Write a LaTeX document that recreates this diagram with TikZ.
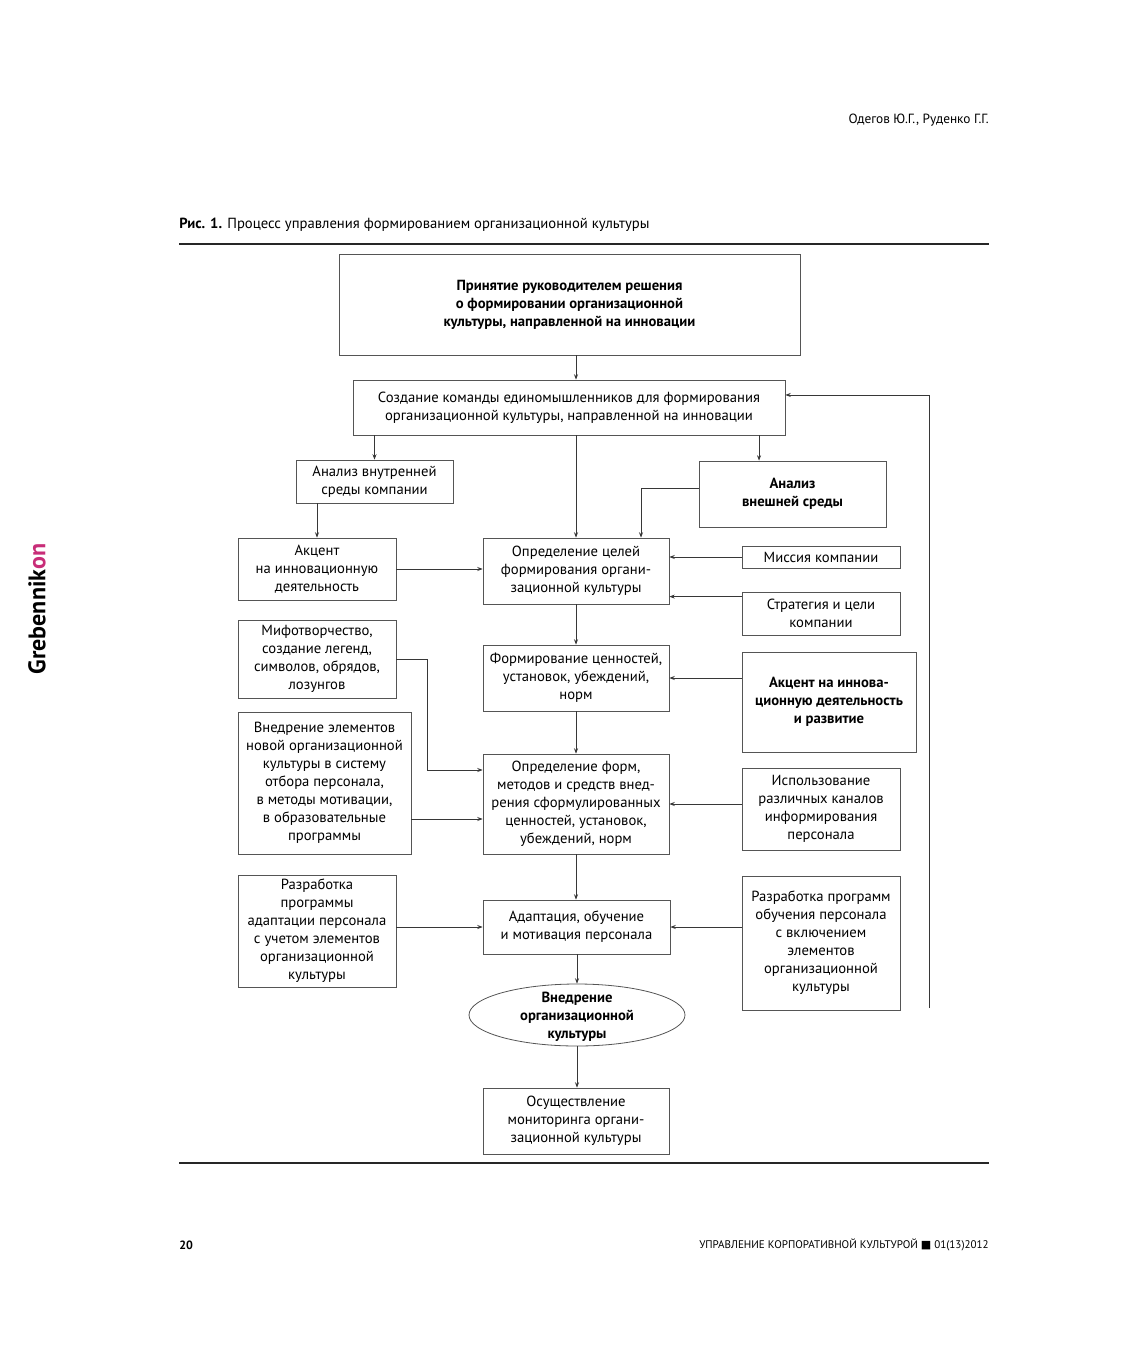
\documentclass[tikz,border=0pt]{standalone}
\usepackage{fontspec}
\setmainfont{PT Sans}
\newfontfamily\dejavu{DejaVu Sans}
\usetikzlibrary{arrows.meta,shapes.geometric,calc}
\definecolor{linegray}{RGB}{55,55,55}
\definecolor{boxgray}{RGB}{85,85,85}
\definecolor{grebpink}{RGB}{200,45,120}
\begin{document}
\begin{tikzpicture}[x=0.75pt,y=-0.75pt,
  txt/.style={font=\fontsize{11}{13.5}\selectfont, align=center, text=black},
  box/.style 2 args={draw=boxgray, line width=0.6pt, inner sep=0pt,
    minimum width=#1*0.75pt, minimum height=#2*0.75pt, txt},
  arr/.style={draw=linegray, line width=0.5pt, -{Stealth[length=4pt,width=3pt]}},
  ln/.style={draw=linegray, line width=0.5pt},
  rule/.style={draw=black!85, line width=1.4pt},
  pagetxt/.style={inner sep=0pt}]
\useasboundingbox[fill=white] (0,0) rectangle (1120,1358);

% page decoration
\node[pagetxt, anchor=east, font=\fontsize{10}{12}\selectfont] (hdr) at (989,120) {Одегов Ю.Г., Руденко Г.Г.};
\node[pagetxt, anchor=west, font=\fontsize{11}{13}\selectfont] (cap) at (179,225) {\textbf{Рис. 1.} Процесс управления формированием организационной культуры};
\draw[rule] (179,244) -- (989,244);
\draw[rule] (179,1163) -- (989,1163);
\node[pagetxt, anchor=west, font=\bfseries\fontsize{9}{11}\selectfont] (pg) at (179,1245) {20};
\node[pagetxt, anchor=east, font=\fontsize{8.3}{10}\selectfont] (ftr) at (989,1245) {УПРАВЛЕНИЕ КОРПОРАТИВНОЙ КУЛЬТУРОЙ {\dejavu ■} 01(13)2012};
\node[pagetxt, rotate=90, font=\bfseries\fontsize{18}{18}\selectfont] (greb) at (37,609) {Grebennik\textcolor{grebpink}{on}};

% boxes
\node[box={461}{101}] (top) at (569.5,304.5) {\bfseries Принятие руководителем решения\\\bfseries о формировании организационной\\\bfseries культуры, направленной на инновации};
\node[box={432}{55}] (team) at (569,407.5) {Создание команды единомышленников для формирования\\организационной культуры, направленной на инновации};
\node[box={157}{43}] (intern) at (374.5,481.5) {Анализ внутренней\\среды компании};
\node[box={187}{66}] (extern) at (792.5,494) {\bfseries Анализ\\\bfseries внешней среды};
\node[box={158}{62}] (ak1) at (317,569) {Акцент\\на инновационную\\деятельность};
\node[box={186}{66}] (goal) at (576,571) {Определение целей\\формирования органи-\\зационной культуры};
\node[box={158}{22}] (mission) at (821,557) {Миссия компании};
\node[box={158}{43}] (strat) at (821,613.5) {Стратегия и цели\\компании};
\node[box={158}{78}] (myth) at (317,659) {Мифотворчество,\\создание легенд,\\символов, обрядов,\\лозунгов};
\node[box={186}{66}] (values) at (576,678) {Формирование ценностей,\\установок, убеждений,\\норм};
\node[box={174}{100}] (ak2) at (829,702) {\bfseries Акцент на иннова-\\\bfseries ционную деятельность\\\bfseries и развитие};
\node[box={173}{142}] (vnedr) at (324.5,783) {Внедрение элементов\\новой организационной\\культуры в систему\\отбора персонала,\\в методы мотивации,\\в образовательные\\программы};
\node[box={186}{100}] (forms) at (576,804) {Определение форм,\\методов и средств внед-\\рения сформулированных\\ценностей, установок,\\убеждений, норм};
\node[box={158}{82}] (chan) at (821,809) {Использование\\различных каналов\\информирования\\персонала};
\node[box={158}{112}] (raz1) at (317,931) {Разработка\\программы\\адаптации персонала\\с учетом элементов\\организационной\\культуры};
\node[box={187}{54}] (adapt) at (576.5,927) {Адаптация, обучение\\и мотивация персонала};
\node[box={158}{134}] (raz2) at (821,943) {Разработка программ\\обучения персонала\\с включением\\элементов\\организационной\\культуры};
\node[ellipse, draw=boxgray, line width=0.6pt, inner sep=0pt,
  minimum width=216*0.75pt, minimum height=62*0.75pt] (ell) at (577,1015) {};
\node[txt, font=\bfseries\fontsize{11}{13.5}\selectfont] (elltxt) at ([yshift=-1.2pt]ell.center) {Внедрение\\организационной\\культуры};
\node[box={186}{66}] (mon) at (576,1121) {Осуществление\\мониторинга органи-\\зационной культуры};

% helper coordinates
\coordinate (exn) at ([xshift=-25.1pt]extern.north);
\coordinate (exw) at ([yshift=4.5pt]extern.west);
\coordinate (gon) at ([xshift=48.75pt]goal.north);
\coordinate (stw) at ([yshift=-3.75pt]strat.north west);
\coordinate (fmw) at ([yshift=25.5pt]forms.west);
\coordinate (fvw) at ([yshift=-11.25pt]forms.west);
\coordinate (tme) at ([yshift=9.4pt]team.east);
\coordinate (fb) at (929,1008);

% connectors
\draw[arr] (top.south -| goal) -- (team.north -| goal);
\draw[arr] (intern |- team.south) -- (intern.north);
\draw[arr] (goal |- team.south) -- (goal.north);
\draw[arr] (exn |- team.south) -- (exn);
\draw[arr] (exw) -| (gon);
\draw[arr] (ak1 |- intern.south) -- (ak1.north);
\draw[arr] (ak1.east) -- (ak1.east -| goal.west);
\draw[arr] (mission.west) -- (mission.west -| goal.east);
\draw[arr] (stw) -- (stw -| goal.east);
\draw[arr] (goal.south) -- (values.north);
\draw[arr] (myth.east) -- ++(31,0) |- (fmw);
\draw[arr] (values.east -| ak2.west) -- (values.east);
\draw[arr] (values.south) -- (forms.north);
\draw[arr] (fvw -| vnedr.east) -- (fvw);
\draw[arr] (forms.east -| chan.west) -- (forms.east);
\draw[arr] (forms.south) -- (forms.south |- adapt.north);
\draw[arr] (adapt.west -| raz1.east) -- (adapt.west);
\draw[arr] (adapt.east -| raz2.west) -- (adapt.east);
\draw[arr] (adapt.south -| ell) -- (ell.north);
\draw[arr] (ell.south) -- (ell.south |- mon.north);
\draw[arr] (fb) |- (tme);
\end{tikzpicture}
\end{document}
